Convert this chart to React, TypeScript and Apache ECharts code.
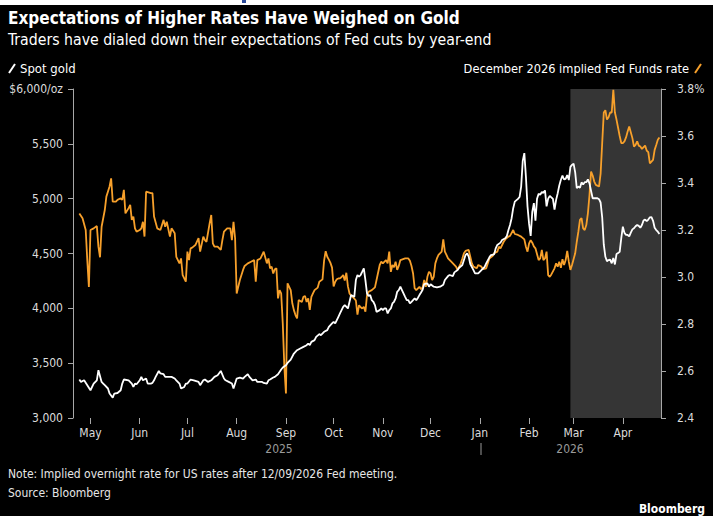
import React, { useEffect, useRef } from 'react';
import * as echarts from 'echarts';

const goldSeries: [string, number][] = [
  ['2025-04-24', 3351], ['2025-04-25', 3329], ['2025-04-27', 3344], ['2025-04-29', 3299],
  ['2025-05-01', 3253], ['2025-05-03', 3314], ['2025-05-05', 3344], ['2025-05-06', 3436],
  ['2025-05-08', 3329], ['2025-05-09', 3314], ['2025-05-10', 3299], ['2025-05-12', 3269],
  ['2025-05-13', 3223], ['2025-05-15', 3186], ['2025-05-16', 3223], ['2025-05-18', 3228],
  ['2025-05-20', 3253], ['2025-05-21', 3314], ['2025-05-22', 3351], ['2025-05-25', 3344],
  ['2025-05-27', 3314], ['2025-05-28', 3283], ['2025-05-29', 3314], ['2025-05-30', 3308],
  ['2025-06-01', 3344], ['2025-06-02', 3375], ['2025-06-03', 3344], ['2025-06-05', 3360],
  ['2025-06-06', 3314], ['2025-06-08', 3314], ['2025-06-09', 3320], ['2025-06-10', 3344],
  ['2025-06-11', 3375], ['2025-06-13', 3429], ['2025-06-14', 3406], ['2025-06-16', 3399],
  ['2025-06-17', 3375], ['2025-06-19', 3375], ['2025-06-21', 3375], ['2025-06-23', 3360],
  ['2025-06-24', 3344], ['2025-06-26', 3314], ['2025-06-27', 3269], ['2025-06-29', 3283],
  ['2025-06-30', 3314], ['2025-07-01', 3314], ['2025-07-03', 3351], ['2025-07-05', 3344],
  ['2025-07-08', 3329], ['2025-07-09', 3299], ['2025-07-11', 3344], ['2025-07-12', 3351],
  ['2025-07-14', 3329], ['2025-07-16', 3344], ['2025-07-18', 3375], ['2025-07-20', 3390],
  ['2025-07-22', 3429], ['2025-07-24', 3360], ['2025-07-25', 3344], ['2025-07-27', 3329],
  ['2025-07-29', 3314], ['2025-07-30', 3269], ['2025-08-01', 3360], ['2025-08-03', 3369],
  ['2025-08-05', 3360], ['2025-08-06', 3375], ['2025-08-08', 3399], ['2025-08-09', 3375],
  ['2025-08-11', 3344], ['2025-08-13', 3351], ['2025-08-14', 3329], ['2025-08-17', 3329],
  ['2025-08-18', 3320], ['2025-08-20', 3314], ['2025-08-21', 3344], ['2025-08-22', 3351],
  ['2025-08-24', 3369], ['2025-08-25', 3375], ['2025-08-27', 3399], ['2025-08-29', 3442],
  ['2025-08-30', 3460], ['2025-09-01', 3481], ['2025-09-02', 3502], ['2025-09-04', 3533],
  ['2025-09-06', 3588], ['2025-09-08', 3618], ['2025-09-10', 3634], ['2025-09-12', 3649],
  ['2025-09-14', 3664], ['2025-09-15', 3679], ['2025-09-16', 3664], ['2025-09-17', 3694],
  ['2025-09-19', 3710], ['2025-09-20', 3740], ['2025-09-22', 3765], ['2025-09-23', 3755],
  ['2025-09-25', 3786], ['2025-09-27', 3801], ['2025-09-28', 3831], ['2025-09-30', 3862],
  ['2025-10-01', 3877], ['2025-10-02', 3862], ['2025-10-04', 3923], ['2025-10-05', 3954],
  ['2025-10-07', 4014], ['2025-10-08', 4030], ['2025-10-10', 3999], ['2025-10-11', 4060],
  ['2025-10-12', 4121], ['2025-10-14', 4105], ['2025-10-15', 4258], ['2025-10-16', 4304],
  ['2025-10-17', 4288], ['2025-10-18', 4304], ['2025-10-19', 4334], ['2025-10-20', 4365],
  ['2025-10-21', 4258], ['2025-10-22', 4136], ['2025-10-23', 4112], ['2025-10-24', 4121],
  ['2025-10-25', 4075], ['2025-10-26', 4060], ['2025-10-27', 4030], ['2025-10-28', 3968],
  ['2025-10-30', 3984], ['2025-10-31', 3999], ['2025-11-01', 3984], ['2025-11-02', 3999],
  ['2025-11-03', 3999], ['2025-11-04', 3954], ['2025-11-05', 3984], ['2025-11-06', 3999],
  ['2025-11-07', 4045], ['2025-11-08', 4060], ['2025-11-09', 4090], ['2025-11-10', 4151],
  ['2025-11-11', 4167], ['2025-11-12', 4197], ['2025-11-13', 4167], ['2025-11-15', 4105],
  ['2025-11-16', 4075], ['2025-11-17', 4075], ['2025-11-18', 4045], ['2025-11-19', 4060],
  ['2025-11-20', 4075], ['2025-11-21', 4090], ['2025-11-22', 4075], ['2025-11-23', 4095],
  ['2025-11-24', 4121], ['2025-11-25', 4145], ['2025-11-26', 4170], ['2025-11-27', 4221],
  ['2025-11-29', 4228], ['2025-11-30', 4197], ['2025-12-01', 4219], ['2025-12-03', 4197],
  ['2025-12-05', 4191], ['2025-12-07', 4197], ['2025-12-09', 4215], ['2025-12-10', 4258],
  ['2025-12-12', 4294], ['2025-12-13', 4304], ['2025-12-15', 4294], ['2025-12-16', 4328],
  ['2025-12-18', 4349], ['2025-12-19', 4370], ['2025-12-21', 4395], ['2025-12-22', 4441],
  ['2025-12-23', 4486], ['2025-12-24', 4502], ['2025-12-25', 4471], ['2025-12-26', 4404],
  ['2025-12-28', 4349], ['2025-12-29', 4319], ['2025-12-31', 4319], ['2026-01-02', 4349],
  ['2026-01-04', 4379], ['2026-01-05', 4410], ['2026-01-07', 4465], ['2026-01-08', 4486],
  ['2026-01-10', 4492], ['2026-01-11', 4547], ['2026-01-12', 4578], ['2026-01-14', 4599],
  ['2026-01-15', 4623], ['2026-01-17', 4639], ['2026-01-18', 4660], ['2026-01-19', 4715],
  ['2026-01-20', 4760], ['2026-01-21', 4822], ['2026-01-22', 4913], ['2026-01-23', 4973],
  ['2026-01-25', 4998], ['2026-01-26', 5015], ['2026-01-27', 5110], ['2026-01-28', 5345],
  ['2026-01-29', 5415], ['2026-01-30', 5200], ['2026-01-31', 4930], ['2026-02-01', 4770],
  ['2026-02-02', 4660], ['2026-02-03', 4880], ['2026-02-04', 4960], ['2026-02-05', 4800],
  ['2026-02-06', 5000], ['2026-02-07', 5045], ['2026-02-08', 5036], ['2026-02-09', 5060],
  ['2026-02-10', 5053], ['2026-02-11', 5075], ['2026-02-12', 4930], ['2026-02-13', 5000],
  ['2026-02-14', 5025], ['2026-02-15', 5012], ['2026-02-16', 4997], ['2026-02-17', 4900],
  ['2026-02-18', 4989], ['2026-02-19', 5050], ['2026-02-20', 5120], ['2026-02-21', 5172],
  ['2026-02-22', 5210], ['2026-02-23', 5175], ['2026-02-24', 5180], ['2026-02-25', 5215],
  ['2026-02-26', 5170], ['2026-02-27', 5290], ['2026-02-28', 5308], ['2026-03-01', 5320],
  ['2026-03-02', 5240], ['2026-03-03', 5096], ['2026-03-04', 5110], ['2026-03-05', 5100],
  ['2026-03-06', 5148], ['2026-03-07', 5130], ['2026-03-08', 5150], ['2026-03-09', 5150],
  ['2026-03-10', 5176], ['2026-03-11', 5140], ['2026-03-12', 5070], ['2026-03-13', 5004],
  ['2026-03-14', 5004], ['2026-03-15', 5004], ['2026-03-16', 5004], ['2026-03-17', 4995],
  ['2026-03-18', 4965], ['2026-03-19', 4830], ['2026-03-20', 4580], ['2026-03-21', 4470],
  ['2026-03-22', 4430], ['2026-03-23', 4440], ['2026-03-24', 4445], ['2026-03-25', 4410],
  ['2026-03-26', 4460], ['2026-03-27', 4400], ['2026-03-28', 4495], ['2026-03-29', 4504],
  ['2026-03-30', 4515], ['2026-03-31', 4640], ['2026-04-01', 4745], ['2026-04-02', 4688],
  ['2026-04-03', 4670], ['2026-04-04', 4669], ['2026-04-05', 4656], ['2026-04-06', 4690],
  ['2026-04-07', 4720], ['2026-04-08', 4730], ['2026-04-09', 4748], ['2026-04-10', 4760],
  ['2026-04-11', 4752], ['2026-04-12', 4735], ['2026-04-13', 4760], ['2026-04-14', 4800],
  ['2026-04-15', 4810], ['2026-04-16', 4795], ['2026-04-17', 4810], ['2026-04-18', 4830],
  ['2026-04-19', 4832], ['2026-04-20', 4798], ['2026-04-21', 4735], ['2026-04-22', 4714],
  ['2026-04-23', 4699], ['2026-04-24', 4678],
];

const rateSeries: [string, number][] = [
  ['2025-04-24', 3.27], ['2025-04-26', 3.25], ['2025-04-28', 3.2], ['2025-04-29', 3.07],
  ['2025-04-30', 2.958], ['2025-05-01', 3.2], ['2025-05-03', 3.207], ['2025-05-05', 3.217],
  ['2025-05-06', 3.129], ['2025-05-07', 3.084], ['2025-05-08', 3.214], ['2025-05-10', 3.285],
  ['2025-05-11', 3.342], ['2025-05-13', 3.385], ['2025-05-14', 3.42], ['2025-05-15', 3.321],
  ['2025-05-17', 3.321], ['2025-05-18', 3.328], ['2025-05-20', 3.335], ['2025-05-21', 3.328],
  ['2025-05-22', 3.371], ['2025-05-23', 3.271], ['2025-05-25', 3.293], ['2025-05-26', 3.307],
  ['2025-05-27', 3.243], ['2025-05-28', 3.257], ['2025-05-29', 3.207], ['2025-05-30', 3.193],
  ['2025-06-01', 3.2], ['2025-06-02', 3.207], ['2025-06-03', 3.235], ['2025-06-04', 3.172],
  ['2025-06-05', 3.363], ['2025-06-08', 3.357], ['2025-06-09', 3.357], ['2025-06-10', 3.257],
  ['2025-06-12', 3.207], ['2025-06-14', 3.2], ['2025-06-16', 3.243], ['2025-06-17', 3.214],
  ['2025-06-18', 3.235], ['2025-06-20', 3.172], ['2025-06-21', 3.207], ['2025-06-23', 3.186],
  ['2025-06-24', 3.086], ['2025-06-26', 3.058], ['2025-06-27', 3.079], ['2025-06-28', 3.008],
  ['2025-06-30', 2.98], ['2025-07-01', 3.108], ['2025-07-02', 3.072], ['2025-07-03', 3.122],
  ['2025-07-04', 3.125], ['2025-07-06', 3.136], ['2025-07-08', 3.165], ['2025-07-09', 3.108],
  ['2025-07-11', 3.172], ['2025-07-12', 3.157], ['2025-07-13', 3.15], ['2025-07-15', 3.229],
  ['2025-07-16', 3.264], ['2025-07-17', 3.143], ['2025-07-18', 3.129], ['2025-07-20', 3.129],
  ['2025-07-22', 3.115], ['2025-07-23', 3.157], ['2025-07-24', 3.193], ['2025-07-26', 3.207],
  ['2025-07-28', 3.207], ['2025-07-29', 3.157], ['2025-07-30', 3.235], ['2025-07-31', 3.165],
  ['2025-08-01', 2.93], ['2025-08-03', 2.987], ['2025-08-05', 3.03], ['2025-08-06', 3.047],
  ['2025-08-08', 3.058], ['2025-08-10', 3.065], ['2025-08-12', 3.072], ['2025-08-13', 2.98],
  ['2025-08-14', 3.072], ['2025-08-16', 3.079], ['2025-08-18', 3.108], ['2025-08-20', 3.058],
  ['2025-08-21', 3.079], ['2025-08-22', 3.037], ['2025-08-23', 3.044], ['2025-08-24', 3.015],
  ['2025-08-25', 3.033], ['2025-08-26', 3.037], ['2025-08-27', 2.909], ['2025-08-28', 2.944],
  ['2025-08-29', 2.93], ['2025-08-30', 2.802], ['2025-08-31', 2.617], ['2025-09-01', 2.504],
  ['2025-09-02', 2.973], ['2025-09-04', 2.944], ['2025-09-05', 2.888], ['2025-09-06', 2.859],
  ['2025-09-07', 2.838], ['2025-09-08', 2.824], ['2025-09-09', 2.902], ['2025-09-11', 2.894],
  ['2025-09-12', 2.916], ['2025-09-13', 2.919], ['2025-09-14', 2.894], ['2025-09-15', 2.909],
  ['2025-09-16', 2.86], ['2025-09-17', 2.915], ['2025-09-18', 2.93], ['2025-09-19', 2.944],
  ['2025-09-21', 2.955], ['2025-09-22', 2.98], ['2025-09-24', 2.99], ['2025-09-25', 3.07],
  ['2025-09-26', 3.11], ['2025-09-27', 3.086], ['2025-09-28', 3.074], ['2025-09-29', 3.06],
  ['2025-09-30', 3.04], ['2025-10-01', 2.96], ['2025-10-02', 2.98], ['2025-10-03', 2.99],
  ['2025-10-04', 2.994], ['2025-10-05', 2.994], ['2025-10-06', 3.0], ['2025-10-07', 3.008],
  ['2025-10-08', 2.985], ['2025-10-09', 3.018], ['2025-10-10', 2.96], ['2025-10-11', 2.93],
  ['2025-10-12', 2.92], ['2025-10-13', 2.915], ['2025-10-14', 2.908], ['2025-10-15', 2.9],
  ['2025-10-16', 2.84], ['2025-10-17', 2.88], ['2025-10-18', 2.871], ['2025-10-19', 2.866],
  ['2025-10-20', 2.873], ['2025-10-21', 2.852], ['2025-10-22', 2.923], ['2025-10-23', 2.937],
  ['2025-10-25', 2.944], ['2025-10-27', 2.956], ['2025-10-28', 2.987], ['2025-10-30', 3.051],
  ['2025-10-31', 3.065], ['2025-11-01', 3.058], ['2025-11-02', 3.065], ['2025-11-03', 3.072],
  ['2025-11-04', 3.058], ['2025-11-05', 3.108], ['2025-11-06', 3.022], ['2025-11-07', 3.051],
  ['2025-11-08', 3.041], ['2025-11-09', 3.065], ['2025-11-10', 3.03], ['2025-11-11', 3.047],
  ['2025-11-12', 3.072], ['2025-11-15', 3.079], ['2025-11-17', 3.079], ['2025-11-18', 3.069],
  ['2025-11-19', 3.047], ['2025-11-20', 3.015], ['2025-11-21', 2.952], ['2025-11-22', 2.944],
  ['2025-11-24', 2.958], ['2025-11-25', 2.948], ['2025-11-26', 2.956], ['2025-11-27', 2.987],
  ['2025-11-28', 2.958], ['2025-11-29', 3.001], ['2025-11-30', 3.022], ['2025-12-01', 3.015],
  ['2025-12-02', 2.987], ['2025-12-03', 3.001], ['2025-12-04', 3.058], ['2025-12-05', 3.079],
  ['2025-12-06', 3.094], ['2025-12-08', 3.108], ['2025-12-09', 3.16], ['2025-12-10', 3.108],
  ['2025-12-11', 3.094], ['2025-12-12', 3.079], ['2025-12-14', 3.065], ['2025-12-17', 3.044],
  ['2025-12-18', 3.03], ['2025-12-19', 3.044], ['2025-12-20', 3.058], ['2025-12-21', 3.079],
  ['2025-12-22', 3.101], ['2025-12-23', 3.111], ['2025-12-25', 3.115], ['2025-12-26', 3.086],
  ['2025-12-27', 3.058], ['2025-12-28', 3.044], ['2025-12-30', 3.037], ['2025-12-31', 3.051],
  ['2026-01-02', 3.044], ['2026-01-03', 3.033], ['2026-01-05', 3.037], ['2026-01-06', 3.058],
  ['2026-01-07', 3.079], ['2026-01-09', 3.089], ['2026-01-10', 3.101], ['2026-01-12', 3.108],
  ['2026-01-13', 3.129], ['2026-01-14', 3.122], ['2026-01-16', 3.15], ['2026-01-17', 3.16],
  ['2026-01-19', 3.172], ['2026-01-20', 3.175], ['2026-01-22', 3.2], ['2026-01-23', 3.183],
  ['2026-01-25', 3.179], ['2026-01-27', 3.172], ['2026-01-29', 3.16], ['2026-01-30', 3.129],
  ['2026-01-31', 3.108], ['2026-02-01', 3.143], ['2026-02-02', 3.157], ['2026-02-03', 3.146],
  ['2026-02-04', 3.13], ['2026-02-05', 3.122], ['2026-02-07', 3.072], ['2026-02-08', 3.079],
  ['2026-02-09', 3.115], ['2026-02-10', 3.072], ['2026-02-11', 3.079], ['2026-02-12', 3.108],
  ['2026-02-13', 3.008], ['2026-02-14', 3.001], ['2026-02-15', 3.011], ['2026-02-17', 3.037],
  ['2026-02-18', 3.058], ['2026-02-19', 3.044], ['2026-02-20', 3.065], ['2026-02-21', 3.039],
  ['2026-02-22', 3.076], ['2026-02-23', 3.051], ['2026-02-24', 3.072], ['2026-02-25', 3.111],
  ['2026-02-26', 3.065], ['2026-02-27', 3.03], ['2026-02-28', 3.051], ['2026-03-02', 3.101],
  ['2026-03-03', 3.15], ['2026-03-04', 3.193], ['2026-03-05', 3.243], ['2026-03-06', 3.25],
  ['2026-03-07', 3.207], ['2026-03-08', 3.2], ['2026-03-09', 3.221], ['2026-03-10', 3.271],
  ['2026-03-11', 3.349], ['2026-03-12', 3.449], ['2026-03-13', 3.432], ['2026-03-14', 3.406],
  ['2026-03-15', 3.392], ['2026-03-17', 3.385], ['2026-03-18', 3.44], ['2026-03-19', 3.57],
  ['2026-03-20', 3.7], ['2026-03-21', 3.71], ['2026-03-22', 3.67], ['2026-03-23', 3.68],
  ['2026-03-24', 3.7], ['2026-03-25', 3.7], ['2026-03-26', 3.797], ['2026-03-27', 3.7],
  ['2026-03-28', 3.67], ['2026-03-29', 3.635], ['2026-03-30', 3.6], ['2026-03-31', 3.57],
  ['2026-04-01', 3.57], ['2026-04-02', 3.577], ['2026-04-03', 3.594], ['2026-04-04', 3.619],
  ['2026-04-05', 3.64], ['2026-04-07', 3.591], ['2026-04-08', 3.555], ['2026-04-09', 3.562],
  ['2026-04-10', 3.577], ['2026-04-11', 3.559], ['2026-04-12', 3.555], ['2026-04-13', 3.545],
  ['2026-04-15', 3.559], ['2026-04-16', 3.538], ['2026-04-17', 3.531], ['2026-04-18', 3.484],
  ['2026-04-19', 3.491], ['2026-04-20', 3.498], ['2026-04-21', 3.541], ['2026-04-22', 3.562],
  ['2026-04-23', 3.584], ['2026-04-24', 3.594],
];

const xRange = ['2025-04-20', '2026-04-25'];
const shadeRange = ['2026-02-27', '2026-04-25'];
const goldAxisRange = [3000, 6000, 500];
const rateAxisRange = [2.4, 3.8, 0.2];
const monthNames = ['Jan', 'Feb', 'Mar', 'Apr', 'May', 'Jun', 'Jul', 'Aug', 'Sep', 'Oct', 'Nov', 'Dec'];
const yearLabels = ['2025', '2026'];

const TITLE = 'Expectations of Higher Rates Have Weighed on Gold';
const SUBTITLE = 'Traders have dialed down their expectations of Fed cuts by year-end';
const LEGEND_GOLD = 'Spot gold';
const LEGEND_RATE = 'December 2026 implied Fed Funds rate';
const NOTE = 'Note: Implied overnight rate for US rates after 12/09/2026 Fed meeting.';
const SOURCE = 'Source: Bloomberg';
const BRAND = 'Bloomberg';

const NARROW = "'Liberation Sans Narrow', 'DejaVu Sans Condensed', sans-serif";
const CONDENSED = "'DejaVu Sans Condensed', 'Liberation Sans Narrow', sans-serif";
const ORANGE = '#f7a02b';
const AXIS = '#a8a8a8';
const LABEL = '#dcdcdc';

export default function App() {
  const ref = useRef<HTMLDivElement>(null);
  useEffect(() => {
    if (!ref.current) return;
    const chart = echarts.init(ref.current, undefined, { renderer: 'svg' });
    const day = 86400000;
    chart.setOption({
      animation: false,
      backgroundColor: '#000',
      grid: { left: 73, right: 52, top: 89, bottom: 98, containLabel: false },
      xAxis: {
        type: 'time',
        min: xRange[0],
        max: xRange[1],
        splitNumber: 12,
        minInterval: 28 * day,
        maxInterval: 31 * day,
        axisLine: { show: false },
        axisTick: { show: true, length: 6, lineStyle: { color: AXIS, width: 1 } },
        splitLine: { show: false },
        axisLabel: {
          color: LABEL,
          fontFamily: NARROW,
          fontSize: 12,
          margin: 9,
          showMinLabel: false,
          showMaxLabel: false,
          formatter: (v: number) => monthNames[new Date(v).getMonth()],
        },
      },
      yAxis: [
        {
          type: 'value',
          position: 'left',
          min: goldAxisRange[0],
          max: goldAxisRange[1],
          interval: goldAxisRange[2],
          axisLine: { show: true, lineStyle: { color: AXIS, width: 1 } },
          axisTick: { show: true, length: 5, lineStyle: { color: AXIS } },
          splitLine: { show: false },
          axisLabel: {
            color: LABEL,
            fontFamily: NARROW,
            fontSize: 12,
            margin: 10,
            formatter: (v: number) =>
              v === goldAxisRange[1] ? '$6,000/oz' : v.toLocaleString('en-US'),
          },
        },
        {
          type: 'value',
          position: 'right',
          min: rateAxisRange[0],
          max: rateAxisRange[1],
          interval: rateAxisRange[2],
          axisLine: { show: true, lineStyle: { color: AXIS, width: 1 } },
          axisTick: { show: true, length: 5, lineStyle: { color: AXIS } },
          splitLine: { show: false },
          axisLabel: {
            color: LABEL,
            fontFamily: NARROW,
            fontSize: 12,
            margin: 16,
            formatter: (v: number) =>
              Math.abs(v - rateAxisRange[1]) < 1e-6 ? v.toFixed(1) + '%' : v.toFixed(1),
          },
        },
      ],
      series: [
        {
          name: 'shade',
          type: 'line',
          yAxisIndex: 0,
          data: [[shadeRange[0], goldAxisRange[0]]],
          symbol: 'none',
          lineStyle: { opacity: 0 },
          silent: true,
          z: 1,
          markArea: {
            silent: true,
            itemStyle: { color: '#353535' },
            data: [[{ xAxis: shadeRange[0] }, { xAxis: shadeRange[1] }]],
          },
        },
        {
          name: LEGEND_RATE,
          type: 'line',
          yAxisIndex: 1,
          data: rateSeries,
          symbol: 'none',
          lineStyle: { color: ORANGE, width: 1.8 },
          z: 3,
        },
        {
          name: LEGEND_GOLD,
          type: 'line',
          yAxisIndex: 0,
          data: goldSeries,
          symbol: 'none',
          lineStyle: { color: '#ffffff', width: 1.8 },
          z: 4,
        },
      ],
      graphic: [
        { type: 'rect', shape: { x: 0, y: 0, width: 713, height: 5 }, style: { fill: '#ffffff' } },
        { type: 'rect', shape: { x: 242, y: 0, width: 4, height: 3 }, style: { fill: '#2b4a9a' } },
        {
          type: 'text', x: 8, y: 18,
          style: { text: TITLE, fill: '#ffffff', font: `bold 17px ${CONDENSED}`, verticalAlign: 'middle' },
        },
        {
          type: 'text', x: 8, y: 39,
          style: { text: SUBTITLE, fill: '#ffffff', font: `15.7px ${NARROW}`, verticalAlign: 'middle' },
        },
        { type: 'line', shape: { x1: 9, y1: 73, x2: 15, y2: 64 }, style: { stroke: '#ffffff', lineWidth: 2 } },
        {
          type: 'text', x: 20, y: 68,
          style: { text: LEGEND_GOLD, fill: '#ffffff', font: `13px ${NARROW}`, verticalAlign: 'middle' },
        },
        {
          type: 'text', x: 689, y: 68,
          style: { text: LEGEND_RATE, fill: '#ffffff', font: `12.7px ${NARROW}`, verticalAlign: 'middle', align: 'right' },
        },
        { type: 'line', shape: { x1: 695, y1: 73, x2: 701, y2: 64 }, style: { stroke: ORANGE, lineWidth: 2 } },
        {
          type: 'text', x: 279, y: 449,
          style: { text: yearLabels[0], fill: '#9a9a9a', font: `12px ${NARROW}`, verticalAlign: 'middle', align: 'center' },
        },
        {
          type: 'text', x: 570, y: 449,
          style: { text: yearLabels[1], fill: '#9a9a9a', font: `12px ${NARROW}`, verticalAlign: 'middle', align: 'center' },
        },
        { type: 'line', shape: { x1: 481, y1: 443, x2: 481, y2: 455 }, style: { stroke: '#9a9a9a', lineWidth: 1 } },
        {
          type: 'text', x: 8, y: 474,
          style: { text: NOTE, fill: '#e6e6e6', font: `12px ${NARROW}`, verticalAlign: 'middle' },
        },
        {
          type: 'text', x: 8, y: 493,
          style: { text: SOURCE, fill: '#e6e6e6', font: `12px ${NARROW}`, verticalAlign: 'middle' },
        },
        {
          type: 'text', x: 705, y: 509,
          style: { text: BRAND, fill: '#ffffff', font: `bold 12px ${NARROW}`, verticalAlign: 'middle', align: 'right' },
        },
      ],
    });
    return () => chart.dispose();
  }, []);
  return (
    <div
      ref={ref}
      style={{ position: 'absolute', left: 0, top: 0, width: 713, height: 516 }}
    />
  );
}
